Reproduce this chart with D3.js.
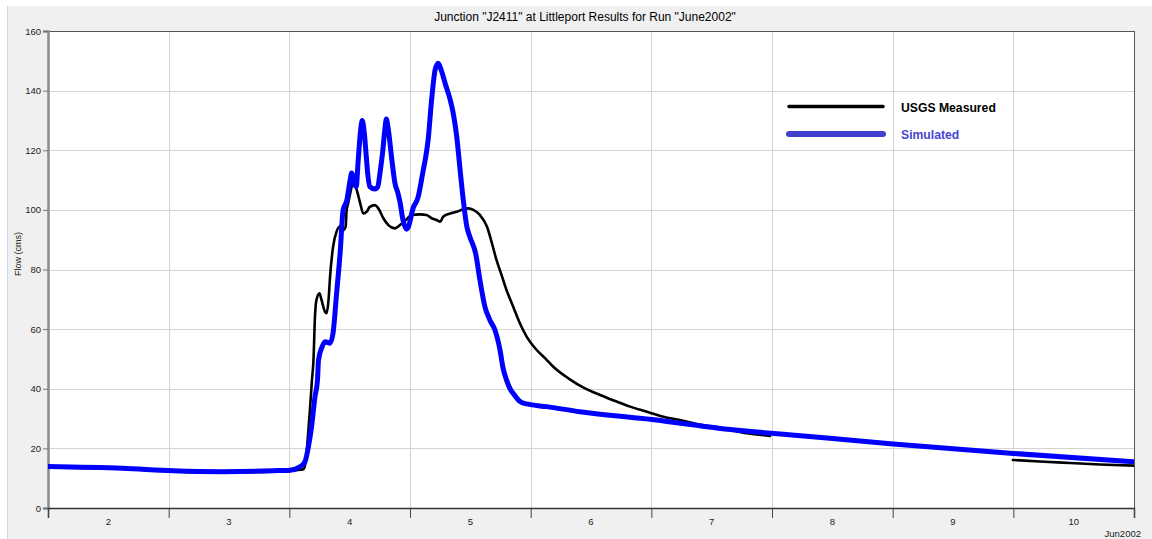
<!DOCTYPE html>
<html>
<head>
<meta charset="utf-8">
<script src="https://cdn.jsdelivr.net/npm/d3@7/dist/d3.min.js"></script>
<style>
  html, body { margin: 0; padding: 0; background: #ffffff; }
  svg { display: block; }
  text { font-family: "Liberation Sans", Arial, sans-serif; }
</style>
</head>
<body>
<svg id="chart" width="1152" height="539"></svg>
<script>
// Hydrograph at junction J2411 (Littleport), run June2002.
// Times are hours after 2002-06-02 00:00; flows in cms.
const titleText = 'Junction "J2411" at Littleport Results for Run "June2002"';
const yAxisLabel = "Flow (cms)";
const yTicks = [0, 20, 40, 60, 80, 100, 120, 140, 160];
const dayLabels = ["2", "3", "4", "5", "6", "7", "8", "9", "10"];
const periodLabel = "Jun2002";
const seriesNames = ["USGS Measured", "Simulated"];

const simulatedHours = [
  0, 14.9, 24.9, 34.8, 44.8, 48.1, 50.1, 51.1, 51.8, 52.5, 53.1, 53.6, 53.8, 54.5,
  55.1, 56.1, 56.7, 57.4, 58.1, 58.7, 59.4, 60.1, 60.4, 60.9, 61.3, 61.7, 62.2,
  62.5, 62.9, 63.3, 63.6, 64.0, 65.0, 65.6, 66.0, 66.6, 67.0, 67.3, 67.6, 68.4,
  69.0, 69.6, 70.0, 70.6, 71.3, 71.6, 72.6, 73.6, 74.6, 75.1, 75.6, 76.3, 77.0,
  77.6, 78.3, 79.0, 80.0, 80.6, 81.3, 81.9, 82.6, 83.3, 83.9, 85.1, 85.9, 86.9,
  87.9, 88.9, 89.9, 90.5, 91.2, 91.9, 92.5, 93.9, 95.2, 99.2, 105.8, 120.1,
  137.6, 143.9, 168.1, 192.0, 216.0
];
const simulatedFlow = [
  13.9, 13.3, 12.5, 12.2, 12.5, 12.7, 13.8, 15.5, 20.6, 28.4, 37.3, 42.9, 49.6, 54.0,
  55.8, 55.3, 58.7, 72.0, 85.5, 100.0, 103.0, 110.0, 112.4, 109.0, 107.8, 116.7, 127.0,
  130.0, 126.0, 118.0, 112.0, 107.8, 107.0, 107.8, 112.0, 120.0, 127.0, 130.5, 128.0, 116.7,
  109.0, 105.6, 102.7, 96.6, 93.5, 94.0, 100.5, 104.2, 113.0, 117.5, 123.4, 136.9, 147.0,
  149.2, 146.4, 142.4, 136.9, 132.4, 124.5, 114.5, 103.3, 94.4, 91.0, 85.0, 76.5, 67.5,
  63.0, 59.7, 53.0, 47.0, 42.9, 40.0, 38.5, 35.7, 34.9, 34.0, 32.3, 29.7,
  26.0, 25.1, 21.5, 18.3, 15.5
];

// null marks the period with no gauge record
const measuredHours = [
  0, 14.9, 24.9, 34.8, 44.8, 48.1, 50.1, 50.8, 51.3, 51.7, 52.1, 52.5, 52.8, 53.1,
  53.4, 54.0, 54.4, 55.1, 55.4, 55.8, 56.1, 56.7, 57.4, 58.1, 58.7, 59.2, 59.4,
  59.7, 60.1, 60.4, 60.9, 61.4, 62.1, 62.7, 63.4, 64.0, 65.0, 65.7, 66.7, 67.7,
  69.0, 70.0, 71.3, 72.3, 74.0, 75.3, 76.3, 77.3, 78.0, 78.6, 80.0, 81.3, 82.6,
  83.6, 84.6, 85.9, 87.3, 88.3, 89.2, 90.2, 91.2, 92.6, 93.9, 95.2, 97.2, 98.9,
  100.5, 103.5, 106.8, 109.8, 113.1, 115.8, 119.1, 122.4, 125.7, 129.0, 132.3,
  135.6, 139.0, 143.6, 168.0, 191.9, 197.3, 203.3, 209.2, 216.0
];
const measuredFlow = [
  13.6, 13.1, 12.3, 12.0, 12.2, 12.4, 12.8, 13.0, 16.0, 24.0, 33.0, 42.9, 49.6, 64.2,
  69.8, 72.0, 69.8, 65.8, 65.3, 69.8, 77.6, 87.6, 92.7, 94.4, 93.2, 94.4, 100.0,
  102.2, 105.5, 107.8, 108.9, 106.7, 102.2, 98.8, 99.4, 101.0, 101.6, 100.5, 97.2, 94.9,
  93.8, 94.9, 96.8, 98.3, 98.5, 98.3, 97.2, 96.6, 96.0, 97.7, 98.8, 99.4, 100.2,
  100.5, 100.0, 98.3, 94.4, 88.8, 83.2, 78.2, 73.1, 67.2, 61.8, 57.5, 53.0, 50.2,
  47.4, 43.5, 40.1, 37.9, 35.7, 34.0, 32.3, 30.6, 29.5, 28.2, 27.3,
  26.2, 25.1, 24.2, null, 16.1, 15.6, 15.1, 14.6, 14.2
];

const startTime = Date.UTC(2002, 5, 2);
const endTime = Date.UTC(2002, 5, 11);
const toDate = h => new Date(startTime + h * 3600 * 1000);

const svg = d3.select("#chart");
const W = 1152, H = 539;
const m = { left: 48, right: 1134, top: 31, bottom: 508 };

// window background
svg.append("rect").attr("x", 8).attr("y", 6).attr("width", W - 8).attr("height", H - 6).attr("fill", "#f0f0f0");
svg.append("line").attr("x1", 7.5).attr("x2", 7.5).attr("y1", 6).attr("y2", H)
  .attr("stroke", "#c5d8ee").attr("stroke-width", 1);

// plot area
svg.append("rect").attr("x", m.left).attr("y", m.top)
  .attr("width", m.right - m.left).attr("height", m.bottom - m.top).attr("fill", "#ffffff");

const x = d3.scaleUtc().domain([startTime, endTime]).range([m.left, m.right]);
const y = d3.scaleLinear().domain([0, 160]).range([m.bottom, m.top]);
const dayTicks = d3.utcDay.range(new Date(startTime), new Date(endTime + 1));

// grid
const grid = svg.append("g");
grid.selectAll("line.gx").data(dayTicks.slice(1, -1)).join("line")
  .attr("x1", d => Math.round(x(d)) + 0.5).attr("x2", d => Math.round(x(d)) + 0.5)
  .attr("y1", m.top).attr("y2", m.bottom)
  .attr("stroke", "#d3d3d3").attr("stroke-width", 1);
grid.selectAll("line.gy").data(yTicks.slice(1, -1)).join("line")
  .attr("x1", m.left).attr("x2", m.right)
  .attr("y1", d => Math.round(y(d)) + 0.5).attr("y2", d => Math.round(y(d)) + 0.5)
  .attr("stroke", "#d3d3d3").attr("stroke-width", 1);

// frame top / right
svg.append("line").attr("x1", m.left).attr("x2", m.right).attr("y1", m.top + 0.5).attr("y2", m.top + 0.5)
  .attr("stroke", "#555").attr("stroke-width", 1);
svg.append("line").attr("x1", m.right + 0.5).attr("x2", m.right + 0.5).attr("y1", m.top).attr("y2", m.bottom)
  .attr("stroke", "#555").attr("stroke-width", 1);

// y axis
const yAxis = svg.append("g").attr("transform", `translate(${m.left},0)`)
  .call(d3.axisLeft(y).tickValues(yTicks).tickSize(5).tickPadding(2).tickFormat(d3.format("d")));
yAxis.select(".domain").attr("stroke", "#8a8a8a").attr("stroke-width", 2.5);
yAxis.selectAll(".tick line").attr("stroke", "#777");
yAxis.selectAll(".tick text").attr("font-size", 9.5).attr("fill", "#222")
  .attr("font-family", "'Liberation Sans', Arial, sans-serif");

// x axis: ticks at midnight, day labels at noon
const xAxis = svg.append("g").attr("transform", `translate(0,${m.bottom})`)
  .call(d3.axisBottom(x).tickValues(dayTicks).tickSize(10).tickFormat(""));
xAxis.select(".domain").attr("stroke", "#333").attr("stroke-width", 1.5);
xAxis.selectAll(".tick line").attr("stroke", "#444");

const noonTicks = dayTicks.slice(0, -1).map(d => new Date(+d + 12 * 3600 * 1000));
svg.append("g").selectAll("text").data(noonTicks).join("text")
  .attr("x", d => x(d)).attr("y", 524.5)
  .attr("text-anchor", "middle").attr("font-size", 9.5).attr("fill", "#222")
  .text((d, i) => dayLabels[i]);
svg.append("text").attr("x", 1141).attr("y", 536.5).attr("text-anchor", "end")
  .attr("font-size", 9.5).attr("fill", "#222").text(periodLabel);

// y label
svg.append("text").attr("transform", "translate(20.5,254) rotate(-90)")
  .attr("text-anchor", "middle").attr("font-size", 9).attr("fill", "#222").text(yAxisLabel);

// title
svg.append("text").attr("x", 585).attr("y", 20.5).attr("text-anchor", "middle")
  .attr("font-size", 12).attr("fill", "#000").text(titleText);

// series
svg.append("clipPath").attr("id", "plotclip").append("rect")
  .attr("x", m.left).attr("y", m.top - 4).attr("width", m.right - m.left).attr("height", m.bottom - m.top + 4);

const measured = measuredHours.map((h, i) => ({ t: toDate(h), v: measuredFlow[i] }));
const simulated = simulatedHours.map((h, i) => ({ t: toDate(h), v: simulatedFlow[i] }));

const line = d3.line().defined(d => d.v !== null)
  .x(d => x(d.t)).y(d => y(d.v)).curve(d3.curveMonotoneX);

const plot = svg.append("g").attr("clip-path", "url(#plotclip)");
plot.append("path").datum(measured).attr("d", line)
  .attr("fill", "none").attr("stroke", "#000").attr("stroke-width", 2.6)
  .attr("stroke-linejoin", "round").attr("stroke-linecap", "round");
plot.append("path").datum(simulated).attr("d", line)
  .attr("fill", "none").attr("stroke", "#0000ff").attr("stroke-width", 5)
  .attr("stroke-linejoin", "round").attr("stroke-linecap", "round");

// legend
const legend = svg.append("g");
const legendItems = [
  { name: seriesNames[0], line: "#000000", text: "#000000", w: 3.5, y: 106.5 },
  { name: seriesNames[1], line: "#4141cd", text: "#4646d2", w: 6, y: 134 }
];
legend.selectAll("line").data(legendItems).join("line")
  .attr("x1", 789).attr("x2", 883).attr("y1", d => d.y).attr("y2", d => d.y)
  .attr("stroke", d => d.line).attr("stroke-width", d => d.w).attr("stroke-linecap", "round");
legend.selectAll("text").data(legendItems).join("text")
  .attr("x", 901).attr("y", d => d.y + 5)
  .attr("font-family", "'DejaVu Sans', Verdana, sans-serif").attr("font-weight", "bold")
  .attr("font-size", 12.2).attr("fill", d => d.text).text(d => d.name);
</script>
</body>
</html>
